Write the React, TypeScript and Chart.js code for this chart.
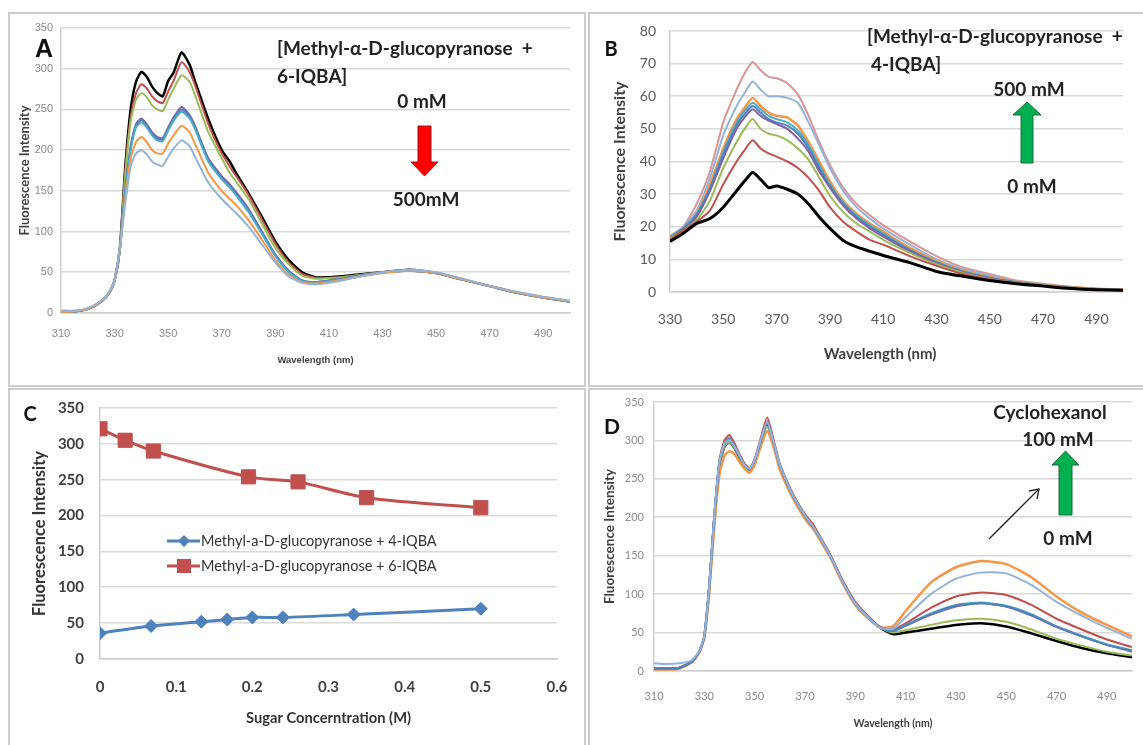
import React, { useEffect, useRef } from "react";
import { Chart, registerables } from "chart.js";

Chart.register(...registerables);

const W = 1143;
const H = 745;

// ---------------- Panel A data (6-IQBA + sugar) ----------------
const wavelengthA = [310, 315, 320, 325, 328, 330, 332, 334, 336, 338, 340, 342, 344, 346, 348, 350, 352, 355, 358, 360, 365, 370, 373, 375, 380, 385, 390, 395, 400, 405, 410, 415, 420, 430, 440, 450, 460, 470, 480, 490, 500];
const aBlack = [2, 2, 5, 14, 25, 40, 80, 180, 250, 284, 296, 290, 278, 270, 266, 285, 295, 320, 305, 285, 238, 200, 186, 174, 147, 118, 88, 65, 50, 44, 44, 45, 47, 50, 53, 49, 41, 33, 25, 19, 14];
const aRed = [1, 2, 5, 14, 25, 40, 80, 175, 240, 270, 281, 276, 266, 260, 258, 272, 285, 308, 296, 280, 232, 196, 180, 170, 145, 115, 85, 62, 48, 43, 43, 44, 46, 50, 52, 49, 41, 33, 25, 19, 14];
const aGreen = [1, 2, 5, 14, 25, 40, 80, 170, 235, 262, 270, 265, 255, 250, 248, 262, 275, 292, 284, 268, 222, 190, 172, 163, 140, 110, 80, 60, 46, 42, 43, 44, 46, 50, 52, 49, 41, 33, 25, 19, 14];
const aPurple = [1, 2, 5, 14, 25, 40, 80, 150, 205, 232, 239, 232, 222, 216, 215, 228, 240, 253, 243, 230, 190, 168, 158, 150, 128, 100, 72, 52, 40, 38, 40, 42, 45, 50, 52, 49, 41, 33, 25, 19, 14];
const aBlue = [1, 2, 5, 14, 25, 40, 80, 149, 203, 230, 237, 230, 220, 214, 213, 226, 238, 250, 241, 228, 188, 166, 156, 148, 126, 99, 71, 51, 40, 38, 40, 42, 45, 50, 52, 49, 41, 33, 25, 19, 14];
const aTeal = [1, 2, 5, 14, 25, 40, 80, 148, 200, 228, 234, 228, 218, 212, 211, 224, 236, 247, 239, 226, 186, 164, 154, 146, 124, 97, 70, 50, 39, 37, 39, 41, 44, 49, 52, 49, 41, 33, 25, 19, 14];
const aOrange = [1, 2, 5, 14, 25, 40, 80, 140, 190, 210, 216, 210, 200, 196, 196, 208, 218, 230, 222, 208, 172, 150, 140, 134, 114, 90, 65, 47, 38, 36, 38, 41, 44, 49, 52, 49, 41, 33, 25, 19, 14];
const aLightBlue = [3, 3, 6, 15, 26, 40, 80, 135, 180, 196, 200, 195, 186, 182, 181, 192, 202, 212, 205, 192, 160, 140, 130, 124, 106, 84, 62, 45, 37, 35, 37, 40, 44, 50, 53, 50, 42, 33, 26, 20, 15];
const xTicksA = [310, 330, 350, 370, 390, 410, 430, 450, 470, 490];

// ---------------- Panel B data (4-IQBA + sugar) ----------------
const wavelengthB = [330, 335, 340, 345, 350, 355, 358, 361, 364, 367, 370, 374, 378, 382, 386, 390, 395, 400, 405, 410, 420, 430, 440, 450, 460, 470, 480, 490, 500];
const bPink = [17, 20, 27, 37, 52, 62, 67, 70.5, 68, 66, 65.5, 64, 60.5, 54, 46, 39, 32, 27, 23.5, 20.5, 15.5, 11, 7.5, 5.5, 3.5, 2.5, 1.6, 1, 0.8];
const bLightBlue = [17, 20, 25, 35, 48, 57, 61, 64.5, 62, 60, 60, 59.5, 58, 52, 45, 38, 31, 26, 22.5, 19.5, 14.5, 10, 7, 5, 3.3, 2.3, 1.5, 1, 0.7];
const bOrange = [17, 19.5, 24, 33, 44, 53, 56.5, 59.5, 57, 55, 54, 53.5, 51, 46, 40, 34, 28, 24, 21, 18.5, 13.5, 9.5, 6.5, 4.5, 3.1, 2.2, 1.5, 1, 0.7];
const bTeal = [17, 19.5, 24, 32, 43, 52, 55.5, 58, 56, 54, 53, 52, 49.5, 45, 39, 33, 27.5, 23.5, 20.5, 18, 13, 9.2, 6.3, 4.4, 3, 2.1, 1.4, 0.9, 0.6];
const bBlue = [16.5, 19.5, 23.5, 31.5, 42, 51, 54.5, 57, 55, 53, 52, 51, 48.5, 44, 38, 32.5, 27, 23, 20, 17.5, 12.8, 9, 6.2, 4.3, 3, 2, 1.4, 0.9, 0.6];
const bPurple = [16.5, 19, 23, 31, 41, 50, 53.5, 56, 54, 52.5, 51.5, 50, 47, 43, 37, 32, 26.5, 22.5, 19.5, 17, 12.5, 8.8, 6, 4.2, 2.9, 2, 1.3, 0.9, 0.6];
const bGreen = [16.5, 19, 22, 28, 38, 46, 50, 53, 50, 48.5, 48, 46.5, 44, 40.5, 35, 29.5, 24.5, 21, 18.5, 16, 12, 8.5, 5.8, 4, 2.8, 2, 1.3, 0.9, 0.6];
const bRed = [16, 19, 21.5, 25, 33, 40, 43.5, 46.5, 44, 42.5, 41.5, 40, 38, 35, 31, 26, 21.5, 18.5, 16, 14.5, 11, 8, 5.5, 3.8, 2.7, 1.9, 1.2, 0.8, 0.5];
const bBlack = [15.5, 18, 21, 22.5, 26, 31, 34, 36.6, 34.5, 32, 32.5, 31.5, 30, 27, 23, 19.5, 15.8, 13.8, 12.5, 11.2, 9, 6.3, 4.8, 3.5, 2.5, 1.8, 1.1, 0.7, 0.5];
const xTicksB = [330, 350, 370, 390, 410, 430, 450, 470, 490];

// ---------------- Panel C data (intensity vs sugar concentration) ----------------
const concentration4IQBA = [0, 0.067, 0.133, 0.167, 0.2, 0.24, 0.333, 0.5];
const intensity4IQBA = [36, 46, 52, 55, 58, 58, 62, 70];
const concentration6IQBA = [0, 0.033, 0.07, 0.195, 0.26, 0.35, 0.5];
const intensity6IQBA = [321, 305, 290, 254, 247, 225, 211];
const xTicksC = [0, 0.1, 0.2, 0.3, 0.4, 0.5, 0.6];
const legendC = ["Methyl-a-D-glucopyranose + 4-IQBA", "Methyl-a-D-glucopyranose + 6-IQBA"];

// ---------------- Panel D data (cyclohexanol) ----------------
const wavelengthD = [310, 315, 320, 325, 328, 330, 332, 334, 336, 338, 340, 342, 344, 346, 348, 350, 352, 355, 358, 360, 365, 370, 373, 375, 380, 385, 390, 395, 400, 405, 410, 420, 430, 440, 450, 460, 470, 480, 490, 500];
const dBlack = [3, 3, 4, 12, 25, 45, 110, 200, 268, 292, 298, 290, 278, 267, 262, 272, 292, 320, 290, 266, 228, 200, 188, 178, 150, 116, 88, 70, 56, 48, 50, 55, 60, 62, 58, 49, 39, 30, 23, 18];
const dGreen = [3, 3, 4, 12, 25, 45, 110, 200, 268, 292, 298, 290, 278, 267, 262, 272, 292, 318, 290, 266, 228, 201, 189, 179, 151, 116, 88, 70, 56, 50, 53, 60, 66, 68, 64, 54, 42, 33, 25, 20];
const dPurple = [3, 3, 4, 12, 25, 45, 112, 202, 270, 296, 303, 292, 280, 268, 263, 274, 295, 325, 292, 268, 230, 202, 189, 179, 150, 116, 88, 70, 56, 52, 59, 73, 84, 88, 84, 72, 57, 45, 34, 25];
const dBlue = [3, 3, 4, 12, 25, 45, 112, 202, 270, 295, 300, 291, 279, 268, 263, 273, 294, 322, 291, 267, 229, 201, 188, 178, 150, 116, 88, 70, 56, 52, 59, 74, 85, 88, 84, 73, 58, 45, 34, 26];
const dTeal = [3, 3, 4, 12, 25, 45, 112, 202, 270, 296, 302, 292, 280, 268, 263, 274, 295, 324, 292, 268, 230, 202, 189, 179, 150, 116, 88, 70, 56, 52, 60, 75, 86, 89, 85, 74, 58, 46, 35, 27];
const dRed = [3, 3, 4, 12, 25, 45, 112, 205, 275, 300, 307, 296, 282, 270, 264, 276, 298, 330, 295, 270, 232, 204, 192, 181, 152, 118, 90, 72, 57, 54, 62, 82, 97, 102, 99, 86, 68, 54, 41, 31];
const dLightBlue = [10, 9, 10, 14, 26, 46, 112, 204, 272, 296, 300, 292, 280, 268, 263, 274, 296, 324, 292, 268, 230, 202, 189, 179, 150, 116, 88, 70, 56, 55, 70, 100, 120, 128, 127, 112, 90, 72, 56, 42];
const dOrange = [2, 2, 3, 11, 24, 43, 105, 190, 255, 280, 286, 282, 272, 263, 258, 268, 288, 312, 286, 262, 226, 198, 186, 176, 148, 114, 86, 69, 57, 58, 78, 115, 135, 143, 139, 122, 97, 76, 60, 45];
const xTicksD = [310, 330, 350, 370, 390, 410, 430, 450, 470, 490];

// ---------------- styles ----------------
const C_BLACK = "#000000";
const C_RED = "#c0504d";
const C_GREEN = "#9bbb59";
const C_PURPLE = "#8064a2";
const C_TEAL = "#4bacc6";
const C_BLUE = "#4f81bd";
const C_ORANGE = "#f79646";
const C_LIGHTBLUE = "#95b3d7";
const C_PINK = "#d99694";
const GRID = "#d9d9d9";
const AXIS = "#cfcfcf";
const LATO = "Lato, 'Open Sans', sans-serif";
const NARROW = "'Liberation Sans Narrow', 'Liberation Sans', sans-serif";
const NBSP = "\u00a0";

type Area = { left: number; right: number; top: number; bottom: number };
type FontSpec = { size: number; family: string; weight?: string };

interface PanelSpec {
  area: Area;
  xMin: number;
  xMax: number;
  xTicks: number[];
  yMax: number;
  yStep: number;
  yTickFont: FontSpec;
  yTickColor: string;
  yTickRight: number;
  xTickFont: FontSpec;
  xTickColor: string;
  xTickCenter: number;
  yTitle: string;
  yTitleFont: FontSpec;
  yTitleCenter: number;
  xTitle: string;
  xTitleFont: FontSpec;
  xTitleCenter: number;
  titleColor: string;
}

function baseOptions(p: PanelSpec) {
  const yLH = p.yTitleFont.size * 1.2;
  const xLH = p.xTitleFont.size * 1.2;
  const padLeft = p.yTitleCenter - yLH / 2;
  const yWidth = p.area.left - padLeft;
  const xBottom = p.xTitleCenter + xLH / 2;
  const xHeight = xBottom - p.area.bottom;
  const xTickPad = Math.max(0, p.xTickCenter - p.area.bottom - (p.xTickFont.size * 1.2) / 2);
  const yTickPad = p.area.left - p.yTickRight;
  return {
    responsive: false,
    animation: false,
    events: [],
    layout: {
      padding: { left: padLeft, top: p.area.top, right: W - p.area.right, bottom: H - xBottom },
    },
    plugins: { legend: { display: false }, tooltip: { enabled: false } },
    scales: {
      x: {
        type: "linear",
        min: p.xMin,
        max: p.xMax,
        afterBuildTicks: (s: any) => {
          s.ticks = p.xTicks.map((v) => ({ value: v }));
        },
        afterFit: (s: any) => {
          s.height = xHeight;
        },
        grid: { display: false },
        border: { display: true, color: AXIS, width: 1.5 },
        ticks: {
          autoSkip: false,
          maxRotation: 0,
          minRotation: 0,
          padding: xTickPad,
          font: p.xTickFont,
          color: p.xTickColor,
          callback: (v: any) => String(v),
        },
        title: { display: true, text: p.xTitle, font: p.xTitleFont, color: p.titleColor, padding: 0 },
      },
      y: {
        min: 0,
        max: p.yMax,
        afterFit: (s: any) => {
          s.width = yWidth;
        },
        grid: { color: GRID, lineWidth: 1.6, drawTicks: false },
        border: { display: true, color: AXIS, width: 1.5 },
        ticks: { stepSize: p.yStep, padding: yTickPad, font: p.yTickFont, color: p.yTickColor },
        title: { display: true, text: p.yTitle, font: p.yTitleFont, color: p.titleColor, padding: 0 },
      },
    },
  };
}

function spectrumConfig(p: PanelSpec, wl: number[], series: { values: number[]; color: string; width: number }[]) {
  return {
    type: "line",
    data: {
      datasets: series.map((s) => ({
        data: wl.map((x, i) => ({ x, y: s.values[i] })),
        borderColor: s.color,
        backgroundColor: s.color,
        borderWidth: s.width,
        pointRadius: 0,
        tension: 0.2,
        fill: false,
      })),
    },
    options: baseOptions(p),
  };
}

// dataset 0 is drawn on top in Chart.js
const configA = spectrumConfig(
  {
    area: { left: 61, right: 570, top: 28, bottom: 313 },
    xMin: 310,
    xMax: 500,
    xTicks: xTicksA,
    yMax: 350,
    yStep: 50,
    yTickFont: { size: 11, family: NARROW },
    yTickColor: "#8a8a8a",
    yTickRight: 53,
    xTickFont: { size: 11, family: NARROW },
    xTickColor: "#8a8a8a",
    xTickCenter: 326,
    yTitle: "Fluorescence Intensity",
    yTitleFont: { size: 13, family: LATO, weight: "bold" },
    yTitleCenter: 25,
    xTitle: "Wavelength (nm)",
    xTitleFont: { size: 9.5, family: NARROW, weight: "bold" },
    xTitleCenter: 360,
    titleColor: "#404040",
  },
  wavelengthA,
  [
    { values: aLightBlue, color: C_LIGHTBLUE, width: 2 },
    { values: aOrange, color: C_ORANGE, width: 2 },
    { values: aTeal, color: C_TEAL, width: 2 },
    { values: aBlue, color: C_BLUE, width: 2 },
    { values: aPurple, color: C_PURPLE, width: 2 },
    { values: aGreen, color: C_GREEN, width: 2 },
    { values: aRed, color: C_RED, width: 2 },
    { values: aBlack, color: C_BLACK, width: 2.5 },
  ]
);

const configB = spectrumConfig(
  {
    area: { left: 670, right: 1123, top: 31, bottom: 292 },
    xMin: 330,
    xMax: 500,
    xTicks: xTicksB,
    yMax: 80,
    yStep: 10,
    yTickFont: { size: 14, family: LATO },
    yTickColor: "#595959",
    yTickRight: 656,
    xTickFont: { size: 14, family: LATO },
    xTickColor: "#595959",
    xTickCenter: 311,
    yTitle: "Fluorescence Intensity",
    yTitleFont: { size: 16, family: LATO, weight: "bold" },
    yTitleCenter: 620,
    // trailing non-breaking spaces shift the centred title left, as in the original
    xTitle: "Wavelength (nm)" + NBSP.repeat(9),
    xTitleFont: { size: 15, family: LATO, weight: "bold" },
    xTitleCenter: 354,
    titleColor: "#404040",
  },
  wavelengthB,
  [
    { values: bBlack, color: C_BLACK, width: 3 },
    { values: bRed, color: C_RED, width: 2 },
    { values: bGreen, color: C_GREEN, width: 2 },
    { values: bPurple, color: C_PURPLE, width: 2 },
    { values: bBlue, color: C_BLUE, width: 2 },
    { values: bTeal, color: C_TEAL, width: 2 },
    { values: bOrange, color: C_ORANGE, width: 2.5 },
    { values: bLightBlue, color: C_LIGHTBLUE, width: 2 },
    { values: bPink, color: C_PINK, width: 2 },
  ]
);

const configD = spectrumConfig(
  {
    area: { left: 654, right: 1132, top: 402, bottom: 671 },
    xMin: 310,
    xMax: 500,
    xTicks: xTicksD,
    yMax: 350,
    yStep: 50,
    yTickFont: { size: 11, family: LATO },
    yTickColor: "#8a8a8a",
    yTickRight: 644,
    xTickFont: { size: 11, family: LATO },
    xTickColor: "#8a8a8a",
    xTickCenter: 688,
    yTitle: "Fluorescence Intensity",
    yTitleFont: { size: 13.5, family: LATO, weight: "bold" },
    yTitleCenter: 610,
    xTitle: "Wavelength (nm)",
    xTitleFont: { size: 10.5, family: LATO, weight: "bold" },
    xTitleCenter: 724,
    titleColor: "#404040",
  },
  wavelengthD,
  [
    { values: dLightBlue, color: C_LIGHTBLUE, width: 2 },
    { values: dBlue, color: C_BLUE, width: 2 },
    { values: dTeal, color: C_TEAL, width: 2 },
    { values: dPurple, color: C_PURPLE, width: 2 },
    { values: dRed, color: C_RED, width: 2 },
    { values: dOrange, color: C_ORANGE, width: 2.5 },
    { values: dGreen, color: C_GREEN, width: 2 },
    { values: dBlack, color: C_BLACK, width: 2.5 },
  ]
);

const configC = {
  type: "line",
  data: {
    datasets: [
      {
        label: legendC[0],
        data: concentration4IQBA.map((x, i) => ({ x, y: intensity4IQBA[i] })),
        borderColor: C_BLUE,
        backgroundColor: C_BLUE,
        borderWidth: 3,
        pointStyle: "rectRot",
        pointRadius: 6.5,
        pointBorderWidth: 1,
        tension: 0.3,
        fill: false,
      },
      {
        label: legendC[1],
        data: concentration6IQBA.map((x, i) => ({ x, y: intensity6IQBA[i] })),
        borderColor: C_RED,
        backgroundColor: C_RED,
        borderWidth: 3,
        pointStyle: "rect",
        pointRadius: 10,
        pointBorderWidth: 1,
        tension: 0.3,
        fill: false,
      },
    ],
  },
  options: baseOptions({
    area: { left: 100, right: 557, top: 408, bottom: 659 },
    xMin: 0,
    xMax: 0.6,
    xTicks: xTicksC,
    yMax: 350,
    yStep: 50,
    yTickFont: { size: 15, family: LATO, weight: "bold" },
    yTickColor: "#404040",
    yTickRight: 84,
    xTickFont: { size: 15, family: LATO, weight: "bold" },
    xTickColor: "#404040",
    xTickCenter: 679,
    yTitle: "Fluorescence Intensity",
    yTitleFont: { size: 16.5, family: LATO, weight: "bold" },
    yTitleCenter: 40,
    xTitle: "Sugar Concerntration (M)",
    xTitleFont: { size: 14.7, family: LATO, weight: "bold" },
    xTitleCenter: 718,
    titleColor: "#333333",
  }),
};

function ChartCanvas({ config }: { config: any }) {
  const ref = useRef<HTMLCanvasElement | null>(null);
  useEffect(() => {
    if (!ref.current) return;
    const chart = new Chart(ref.current, config);
    return () => chart.destroy();
  }, [config]);
  return (
    <canvas
      ref={ref}
      width={W}
      height={H}
      style={{ position: "absolute", left: 0, top: 0, width: W, height: H }}
    />
  );
}

const annoFont: React.CSSProperties = {
  fontFamily: LATO,
  fontWeight: 700,
  fontSize: 19,
  color: "#222",
  whiteSpace: "nowrap",
  lineHeight: 1,
};

function Text({
  x,
  y,
  children,
  align = "center",
  style,
}: {
  x: number;
  y: number;
  children: React.ReactNode;
  align?: "center" | "left";
  style?: React.CSSProperties;
}) {
  return (
    <div
      style={{
        position: "absolute",
        left: x,
        top: y,
        transform: align === "center" ? "translate(-50%, -50%)" : "translate(0, -50%)",
        ...annoFont,
        ...style,
      }}
    >
      {children}
    </div>
  );
}

function Box({ left, top, width, height, right = true, bottom = true }: any) {
  return (
    <div
      style={{
        position: "absolute",
        left,
        top,
        width,
        height,
        boxSizing: "border-box",
        borderTop: "2px solid #cdcdcd",
        borderLeft: "2px solid #cdcdcd",
        borderRight: right ? "2px solid #cdcdcd" : "none",
        borderBottom: bottom ? "2px solid #cdcdcd" : "none",
      }}
    />
  );
}

export default function App() {
  return (
    <div
      style={{
        position: "absolute",
        left: 0,
        top: 0,
        width: W,
        height: H,
        overflow: "hidden",
        background: "#fff",
      }}
    >
      <Box left={8} top={12} width={578} height={375} />
      <Box left={588} top={12} width={W - 588} height={375} right={false} />
      <Box left={8} top={388} width={578} height={H - 388} bottom={false} />
      <Box left={588} top={388} width={W - 588} height={H - 388} right={false} bottom={false} />

      <ChartCanvas config={configA} />
      <ChartCanvas config={configB} />
      <ChartCanvas config={configC} />
      <ChartCanvas config={configD} />

      <svg width={W} height={H} style={{ position: "absolute", left: 0, top: 0 }}>
        {/* A: red down arrow */}
        <polygon
          points="418,126 431,126 431,162 438,162 424.5,176 411,162 418,162"
          fill="#ff0000"
          stroke="#a31515"
          strokeWidth={1}
        />
        {/* B: green up arrow */}
        <polygon
          points="1027,102 1041,115 1033,115 1033,163 1021,163 1021,115 1013,115"
          fill="#00b050"
          stroke="#1d6a3a"
          strokeWidth={1}
        />
        {/* D: green up arrow */}
        <polygon
          points="1065.5,451 1079,465 1072,465 1072,515 1059,515 1059,465 1052,465"
          fill="#00b050"
          stroke="#1d6a3a"
          strokeWidth={1}
        />
        {/* D: thin black arrow */}
        <line x1={989} y1={539} x2={1039} y2={489} stroke="#222" strokeWidth={1.3} />
        <polyline points="1029,491 1039,489 1037,499" fill="none" stroke="#222" strokeWidth={1.3} />
        {/* C legend symbols */}
        <line x1={167} y1={541} x2={200} y2={541} stroke={C_BLUE} strokeWidth={3} />
        <polygon points="184,535 190,541 184,547 178,541" fill={C_BLUE} />
        <line x1={167} y1={566} x2={200} y2={566} stroke={C_RED} strokeWidth={3} />
        <rect x={177} y={559} width={14} height={14} fill={C_RED} />
      </svg>

      {/* panel letters */}
      <Text x={44} y={48} style={{ fontFamily: "'Liberation Sans', Arial, sans-serif", fontSize: 25, color: "#111" }}>A</Text>
      <Text x={611} y={48} style={{ fontSize: 20, color: "#111" }}>B</Text>
      <Text x={30} y={413} style={{ fontSize: 20, color: "#111" }}>C</Text>
      <Text x={612} y={425} style={{ fontSize: 21, color: "#111" }}>D</Text>

      {/* A annotations */}
      <Text x={277} y={47} align="left">[Methyl-α-D-glucopyranose&nbsp;&nbsp;+</Text>
      <Text x={277} y={75} align="left">6-IQBA]</Text>
      <Text x={422} y={100}>0 mM</Text>
      <Text x={426} y={198}>500mM</Text>

      {/* B annotations */}
      <Text x={867} y={35} align="left">[Methyl-α-D-glucopyranose&nbsp;&nbsp;+</Text>
      <Text x={871} y={63} align="left">4-IQBA]</Text>
      <Text x={1029} y={88}>500 mM</Text>
      <Text x={1032} y={185}>0 mM</Text>

      {/* C legend text */}
      <Text x={201} y={541} align="left" style={{ fontWeight: 400, fontSize: 14.5, color: "#333" }}>{legendC[0]}</Text>
      <Text x={201} y={566} align="left" style={{ fontWeight: 400, fontSize: 14.5, color: "#333" }}>{legendC[1]}</Text>

      {/* D annotations */}
      <Text x={1050} y={411}>Cyclohexanol</Text>
      <Text x={1058} y={438}>100 mM</Text>
      <Text x={1068} y={537}>0 mM</Text>
    </div>
  );
}
